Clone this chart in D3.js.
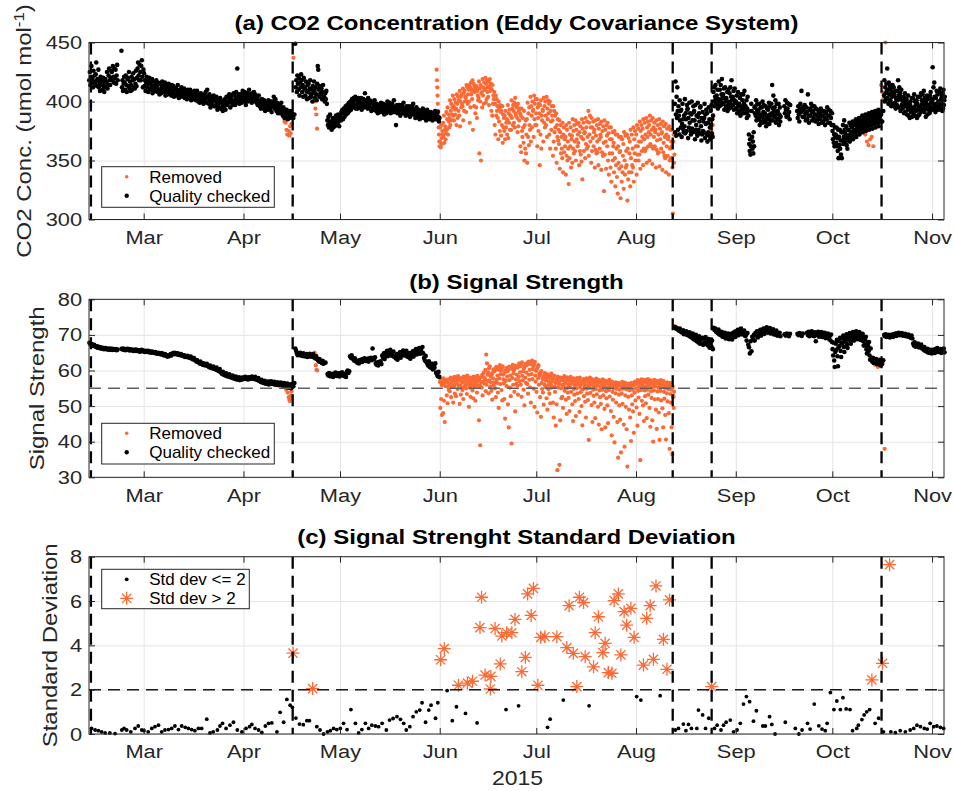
<!DOCTYPE html>
<html>
<head>
<meta charset="utf-8">
<script src="https://cdn.jsdelivr.net/npm/d3@7"></script>
<style>
  body { margin: 0; background: #fff; }
  svg text { font-family: "Liberation Sans", Arial, Helvetica, sans-serif; }
</style>
</head>
<body>
<svg id="chart" width="953" height="791"></svg>
<script>
// ---------------------------------------------------------------------------
// Data. Time is day of year 2015 (1 = Jan 1). Each row is [day, v1, v2, ...];
// the values of a row are samples spread evenly through that day.
// ---------------------------------------------------------------------------

// (a) CO2 concentration, umol mol-1 — quality checked samples
const co2Checked = [
  [43,418,425,414,421,430,416],[44,420,412,426,417,422,415],[45,423,433,418,413,419,427],
  [46,412,416,409,421,414,418],[47,415,410,420,413,408,417],[48,419,412,416,425,411,414],
  [49,422,428,418,414,420,426],[50,425,418,430,421,416,428],[51,420,427,415,422,431,418],
  [53,443,412,418,409,415,421],[54,416,410,422,414,408,419],[55,420,413,425,411,417,409],
  [56,414,421,410,418,424,412],[57,419,411,415,426,413,420],[58,428,433,422,418,431,425],
  [59,418,430,435,421,412,427],[60,424,413,418,409,416,421],[61,412,418,408,415,420,411],
  [62,416,410,414,419,407,413],[63,411,417,409,414,412,418],[64,413,408,416,410,415,406],
  [65,410,415,407,412,417,409],[66,414,408,411,416,405,412],[67,409,413,406,411,415,408],
  [68,412,407,410,405,414,409],[69,408,413,404,410,406,411],[70,411,405,409,414,407,403],
  [71,406,410,404,408,412,405],[72,409,404,407,411,403,408],[73,405,409,402,407,410,404],
  [74,407,403,410,405,401,408],[75,404,408,402,406,409,403],[76,406,401,405,409,403,400],
  [77,402,406,399,404,407,401],[78,405,400,403,398,402,406],[79,401,408,404,399,410,403],
  [80,404,398,406,401,395,402],[81,399,404,397,401,405,396],[82,402,396,400,404,398,393],
  [83,397,401,395,399,403,394],[84,400,394,398,392,396,401],[85,396,402,393,399,404,397],
  [86,398,404,400,406,402,395],[87,403,399,405,401,397,407],[88,400,405,397,402,408,399],
  [89,428,404,400,406,398,403],[90,401,406,399,404,409,402],[91,405,400,408,403,397,406],
  [92,402,407,400,405,410,404],[93,406,401,404,399,407,403],[94,403,408,401,406,400,405],
  [95,399,403,397,401,405,398],[96,396,400,394,398,402,395],[97,398,394,401,396,392,399],
  [98,395,399,393,397,401,394],[99,397,393,400,395,391,398],[100,400,396,404,398,394,402],
  [101,396,392,399,394,390,397],[102,393,397,390,395,399,391],[103,392,388,395,390,386,393],
  [104,390,387,393,389,385,391],[105,388,391,386,392,389,387],[106,390,386,389],
  [107,449,412,418,408,422,415],[108,410,420,405,416,412,423],[109,418,408,414,404,420,411],
  [110,412,405,417,409,402,414],[111,408,415,403,411,418,406],[112,404,410,400,413,407,417],
  [113,409,403,412,406,401,415],[114,430,427,410,404,413,407],[115,406,411,402,408,414,403],
  [116,404,400,407,402,409,398],[117,384,380,387,378,383,389],[118,379,383,376,381,386,378],
  [119,382,386,379,384,388,381],[120,385,381,389,383,379,387],[121,388,384,391,386,393,385],
  [122,390,394,387,392,396,389],[123,393,397,390,395,399,392],[124,396,400,393,398,402,395],
  [125,399,403,396,401,404,394],[126,397,401,394,399,403,396],[127,400,395,398,403,393,397],
  [128,398,402,395,400,407,396],[129,401,396,399,394,403,398],[130,397,401,394,399,392,400],
  [131,395,399,393,397,401,394],[132,396,392,398,394,390,397],[133,393,397,391,395,399,392],
  [134,395,391,398,393,389,396],[135,392,397,390,395,400,393],[136,396,392,399,394,390,397],
  [137,394,398,391,396,401,393],[138,391,395,380,393,397,390],[139,395,391,397,393,388,396],
  [140,393,397,390,395,399,392],[141,390,394,388,392,396,389],[142,394,390,396,392,387,395],
  [143,392,396,389,394,398,391],[144,389,393,386,391,395,388],[145,391,387,393,389,385,392],
  [146,388,392,386,390,394,387],[147,390,386,392,388,384,391],[148,393,389,387,391,385,390],
  [149,388,391,386,390,384,389],[150,390,386,388,392,385,387],[151,389,385,391,387,383,386],
  [225,398,374,417,389,371,404,386,412,392],[226,376,396,388,372,401,384,392,378],
  [227,393,370,381,398,377,385,374,388],[228,379,402,373,390,385,375,397,393],
  [229,394,369,386,378,399,382,390,375],[230,372,389,400,377,384,374,396,391],
  [231,392,384,368,397,376,380,388,373],[232,371,399,387,376,390,383,373,395],
  [233,396,379,367,386,372,391,375,383],[234,374,386,398,369,389,381,393,372],
  [235,390,366,382,374,395,371,385,378],[236,368,392,380,397,373,385,370,388],
  [237,408,400,412,396,404,414,402,398],[238,405,398,410,394,402,417,400,396],
  [239,410,401,414,397,406,419,403,399],[240,406,398,411,393,403,412,400,395],
  [241,403,396,408,392,400,410,398,394],[242,407,399,412,395,404,418,401,397],
  [243,404,397,409,393,401,411,399,394],[244,400,394,405,390,398,408,396,391],
  [245,398,392,403,388,396,406,394,390],[246,401,394,406,390,398,409,396,392],
  [247,396,390,401,386,394,404,392,388],[248,372,364,358,368,355,362,398,392],
  [249,370,360,366,356,374,362,395,390],[250,396,388,401,384,393,398,386,390],
  [251,392,385,398,380,389,395,383,387],[252,395,387,400,382,391,397,385,389],
  [253,390,383,396,379,388,394,381,386],[254,393,385,399,381,389,396,384,388],
  [255,398,390,414,384,394,405,388,392],[256,395,387,401,382,391,398,385,389],
  [257,392,385,398,380,389,395,383,387],
  [259,396,390,401,393,387,399],[260,394,388,398,391,385,397],
  [263,392,386,396,389,383,394],[264,398,391,409,393,387,395],[265,393,387,397,390,384,395],
  [266,391,385,406,388,382,393],[267,394,388,398,391,384,396],[268,392,386,396,389,383,394],
  [269,389,384,393,387,381,391],[270,390,385,394,388,382,392],[271,388,383,392,386,380,390],
  [272,391,385,395,388,382,393],[273,388,382,392,386,380,390],
  [274,375,368,380,365,372,362,378,370],[275,372,365,378,362,369,358,376,352],
  [276,370,363,376,360,367,355,374,352],[277,374,367,380,364,370,384,376,368],
  [278,373,366,379,363,369,360,376,371],[279,376,369,382,366,372,380,374,370],
  [280,378,371,383,368,374,381,376,373],[281,380,373,385,370,376,383,378,375],
  [282,381,375,386,372,378,384,380,376],[283,383,377,388,374,380,386,382,378],
  [284,384,378,389,375,381,387,383,379],[285,385,379,390,376,382,388,384,380],
  [286,386,380,391,377,383,389,385,381],[287,387,381,392,378,384,390,386,382],
  [288,388,382,393,379,385,391,387,383],[289,389,383,392],
  [290,405,418,400,412,407,402,415,409],[291,428,403,410,398,416,406,400,413],
  [292,401,411,396,408,404,414,398,405],[293,412,396,406,399,409,394,403,402],
  [294,397,409,401,418,395,405,412,403],[295,407,392,404,410,397,401,394,399],
  [296,395,404,390,401,407,391,398,396],[297,402,389,399,393,405,388,396,394],
  [298,386,397,400,391,394,403,387,392],[299,403,390,395,406,388,400,393,397],
  [300,392,401,386,398,404,388,395,393],[301,389,404,396,391,407,394,401,398],
  [302,406,393,398,409,391,403,396,400],[303,387,399,394,405,389,402,393,396],
  [304,397,390,405,392,408,399,395,402],[305,401,429,393,412,398,416,404,395],
  [306,391,403,398,409,393,406,396,400],[307,400,393,408,395,411,398,402,405],
  [308,399,392,407,394,410,397,401,404]
];

// (a) CO2 concentration — removed samples
const co2Removed = [
  [103,388,383],[104,382,376,372,385],[105,375,371,379,373,381],[106,437],
  [113,400,394,389,377],
  [151,427,418,412,405,398,392,385,378,372,366,362],
  [152,366,378,361,380,369,364,375,372],[153,382,370,388,365,376,379,368,373],
  [154,391,376,385,395,372,389,383,378],[155,386,401,380,392,398,384,389,395],
  [156,405,388,396,384,402,393,389,399],[157,394,380,406,398,386,404,392,401],
  [158,388,409,379,400,404,395,406,398],[159,396,411,384,407,392,409,400,404],
  [160,403,391,414,400,412,398,406,410],[161,400,414,382,412,395,416,406,409],
  [162,402,418,376,410,415,396,413,408],[163,390,411,395,413,386,409,405,401],
  [164,403,417,356,411,400,414,350,407],[165,408,395,419,405,412,398,416,410],
  [166,410,420,399,415,402,418,408,412],[167,404,417,397,413,419,409,411,415],
  [168,392,410,388,414,398,405,402,408],[169,380,398,372,405,388,402,392,396],
  [170,386,368,400,383,394,375,397,391],[171,371,392,380,396,365,389,378,386],
  [172,375,388,368,392,378,382,385,372],[173,384,397,369,390,382,393,376,388],
  [174,388,376,401,386,394,380,397,392],[175,382,399,378,403,390,388,396,395],
  [176,386,374,398,379,392,384,394,390],[177,362,388,357,394,375,370,386,378],
  [178,365,392,350,380,360,384,356,372],[179,385,348,399,370,390,363,395,380],
  [180,376,404,366,396,388,378,400,392],[181,393,370,405,385,398,380,402,390],
  [182,380,402,362,395,386,375,398,390],[183,346,397,372,401,360,388,384,393],
  [184,392,366,403,382,396,378,400,388],[185,380,404,370,394,385,401,390,398],
  [186,372,400,360,392,383,376,396,388],[187,384,354,396,366,392,374,388,378],
  [188,360,390,348,380,370,385,367,376],[189,364,384,343,374,380,356,370,360],
  [190,352,382,340,372,378,357,368,362],[191,370,338,380,354,376,350,366,360],
  [192,330,382,352,372,362,378,344,368],[193,371,348,385,360,375,356,380,366],
  [194,358,384,350,376,368,381,362,372],[195,365,382,346,374,358,379,355,370],
  [196,349,385,334,377,368,382,358,373],[197,374,352,386,364,378,360,383,370],
  [198,362,392,354,382,372,388,366,378],[199,348,386,358,378,369,383,362,374],
  [200,376,344,384,359,371,356,380,366],[201,357,385,346,377,368,360,381,372],
  [202,370,342,383,357,375,354,379,365],[203,324,384,355,376,366,343,380,371],
  [204,362,382,350,373,338,378,356,368],[205,344,378,332,368,356,374,350,362],
  [206,365,340,375,352,328,372,346,360],[207,336,372,322,362,348,370,343,357],
  [208,358,318,370,345,332,368,340,354],[209,364,326,374,350,338,371,344,358],
  [210,346,372,316,360,334,369,340,356],[211,366,328,376,352,340,372,346,360],
  [212,344,378,332,368,356,375,350,362],[213,372,338,380,355,362,377,350,366],
  [214,355,383,343,375,366,380,358,370],[215,377,346,385,360,368,382,358,372],
  [216,360,386,348,378,370,383,362,374],[217,380,350,388,364,372,384,362,376],
  [218,347,386,360,378,370,382,362,374],[219,376,344,384,359,367,380,356,372],
  [220,357,385,345,377,368,381,360,373],[221,374,342,383,357,365,379,354,370],
  [222,352,381,340,372,362,377,354,368],[223,370,338,379,350,360,376,352,366],
  [224,362,376,344,305,366,372,348,355],
  [236,382,376,372,380],[284,372,366],[285,363,368],[286,370,362],
  [289,414,408,402],[290,450]
];

// (b) Signal strength — quality checked samples
const signalChecked = [
  [43,67.8,67.5,67.2,67.4],[44,67.1,66.9,67.2,66.8],[45,66.7,66.5,66.8,66.4],
  [46,66.3,66.6,66.2,66.4],[47,66.1,66.4,66.0,66.2],[48,66.3,66.0,66.2,65.9],
  [49,65.9,66.2,65.8,66.0],[50,66.1,65.8,66.0,65.9],[51,65.8,66.0,65.7,65.9],
  [53,66.1,65.9,66.2,65.8],[54,66.0,65.7,65.9,66.1],[55,65.8,66.0,65.6,65.9],
  [56,65.9,65.6,65.8,65.5],[57,65.7,65.9,65.5,65.8],[58,65.6,65.4,65.7,65.3],
  [59,65.5,65.8,65.4,65.6],[60,65.4,65.2,65.5,65.3],[61,65.3,65.5,65.1,65.4],
  [62,65.2,65.0,65.3,65.1],[63,65.1,64.9,65.2,64.8],[64,64.9,64.7,65.0,64.8],
  [65,64.8,64.5,64.9,64.6],[66,64.4,64.2,64.6,64.3],[67,64.1,63.9,64.3,64.0],
  [68,64.3,64.6,64.2,64.7],[69,64.8,65.0,64.6,64.9],[70,64.7,64.5,64.8,64.4],
  [71,64.5,64.3,64.6,64.2],[72,64.2,64.0,64.3,63.8],[73,64.0,63.8,64.1,63.7],
  [74,63.8,63.5,63.9,63.4],[75,63.4,63.1,63.5,63.0],[76,62.8,62.5,62.9,62.4],
  [77,62.3,62.0,62.5,61.9],[78,61.8,61.6,62.0,61.5],[79,61.7,61.4,61.9,61.3],
  [80,61.2,60.9,61.4,60.8],[81,60.9,60.6,61.1,60.5],[82,60.6,60.3,60.8,60.1],
  [83,60.2,59.8,60.4,59.6],[84,59.4,59.0,59.6,58.8],[85,59.0,58.6,59.2,58.4],
  [86,58.7,58.3,58.9,58.1],[87,58.4,58.0,58.6,57.8],[88,58.1,57.7,58.3,57.5],
  [89,57.9,57.5,58.1,57.3],[90,57.8,57.4,58.0,57.6],[91,58.0,57.6,58.2,57.7],
  [92,57.9,57.5,58.1,57.6],[93,58.1,57.8,58.3,57.7],[94,58.0,57.6,58.2,57.5],
  [95,57.7,57.3,57.9,57.1],[96,57.2,56.8,57.4,56.6],[97,56.9,56.5,57.1,56.3],
  [98,56.7,56.3,56.9,56.1],[99,56.8,56.4,57.0,56.2],[100,56.6,56.2,56.8,56.0],
  [101,56.5,56.1,56.7,55.9],[102,56.4,56.0,56.6,55.8],[103,56.2,55.7,56.5,55.5],
  [104,56.0,55.4,56.3,55.2],[105,55.8,55.2,56.1,55.0],[106,56.2,55.6,56.5],
  [107,66.2,65.5,64.8,64.3],[108,64.9,64.4,65.0,64.2],[109,64.6,64.1,64.8,64.0],
  [110,64.4,64.0,64.6,63.8],[111,64.5,64.1,64.7,63.9],[112,64.3,63.9,64.6,63.7],
  [113,63.8,63.4,64.0,63.2],[114,63.0,62.6,63.2,62.4],[115,62.5,62.1,62.7,61.9],
  [116,62.2],
  [117,59.0,58.6,59.3,58.4],[118,58.8,58.4,59.1,58.2],[119,59.1,58.7,59.4,58.5],
  [120,58.9,58.5,59.2,58.3],[121,59.2,58.8,59.5,58.6],[122,58.8,58.4,59.1,58.2],
  [123,59.6,60.0,59.3,59.8],
  [124,64.0,63.6,64.3,63.4],[125,63.2,62.8,63.4,62.6],[126,62.5,62.2,62.8,62.0],
  [127,62.9,62.6,63.1,62.4],[128,63.2,62.9,63.4,62.7],[129,63.0,62.7,63.3,62.5],
  [130,63.4,63.1,63.6,62.9],[131,66.2,63.5,63.2,63.7],[132,62.0,61.6,62.3,61.4],
  [133,62.4,62.0,62.6,61.8],[134,64.2,63.6,64.8,63.2],[135,65.0,64.4,65.5,64.0],
  [136,65.3,64.7,65.8,64.2],[137,64.8,64.1,65.3,63.8],[138,64.0,63.4,64.6,63.0],
  [139,64.6,64.0,65.1,63.6],[140,65.2,64.6,65.6,64.2],[141,65.0,64.3,65.5,63.9],
  [142,64.3,63.7,64.9,63.3],[143,64.9,64.3,65.4,63.9],[144,65.5,64.9,66.0,64.5],
  [145,65.8,65.1,66.3,64.7],[146,66.0,65.2,66.6,64.8],[147,63.5,62.8,64.1,62.3],
  [148,62.0,61.4,62.6,61.0],[149,61.3,60.7,61.9,60.3],[150,61.5,60.8,62.0,59.4],
  [151,59.0,58.4,59.6,58.2],
  [225,72.2,71.8,72.0,71.5],[226,71.6,71.2,71.8,70.9],[227,71.0,70.6,71.3,70.2],
  [228,70.8,70.3,71.0,70.0],[229,70.4,69.8,70.7,69.5],[230,70.0,69.2,70.4,68.8],
  [231,69.5,68.6,70.0,68.2],[232,69.0,67.9,69.6,67.5],[233,68.6,67.6,69.2,67.2],
  [234,68.9,67.8,69.4,67.4],[235,68.2,67.0,68.8,66.4],[236,67.8,66.8,68.4,66.0],
  [237,72.0,71.4,71.8,70.9],[238,71.2,70.5,71.5,70.1],[239,70.6,69.9,70.9,69.5],
  [240,70.2,69.4,70.6,69.0],[241,70.0,69.2,70.4,68.8],[242,69.8,69.0,70.3,68.7],
  [243,70.5,69.8,70.9,69.4],[244,71.0,70.3,71.4,69.9],[245,71.4,70.6,71.8,70.2],
  [246,70.8,70.1,71.2,69.7],[247,69.8,68.4,70.5,67.2],[248,66.5,64.8,68.2,65.4],
  [249,69.5,68.8,70.0,68.4],[250,70.6,69.8,71.0,69.3],[251,71.0,70.2,71.4,69.8],
  [252,71.4,70.7,71.8,70.3],[253,71.7,71.0,72.1,70.6],[254,71.5,70.8,71.9,70.4],
  [255,71.2,70.5,71.6,70.1],[256,70.8,70.1,71.2,69.8],[257,70.4,69.9,70.6,69.6],
  [259,70.2,69.8,70.4],[260,70.0,69.6,70.3],[263,70.3,69.9,70.5],[264,70.1,69.7,70.4],
  [266,70.6,70.0,70.9,69.6],[267,70.8,70.2,71.0,69.8],[268,70.4,69.6,70.7,68.2],
  [269,70.6,69.9,70.9,69.5],[270,70.5,69.8,70.8,69.4],[271,70.2,69.5,70.6,69.1],
  [272,70.0,69.3,70.4,68.9],[273,69.6,68.5,70.1,68.0],
  [274,66.0,64.2,67.8,62.8,61.0,65.2],[275,67.5,65.8,68.6,64.0,61.2,66.5],
  [276,68.2,66.9,69.2,65.5,63.8,67.6],[277,69.0,67.8,69.8,66.6,65.2,68.4],
  [278,69.5,68.5,70.2,67.4,66.3,68.9],[279,70.0,69.2,70.5,68.3,67.5,69.6],
  [280,70.3,69.6,70.8,69.0,68.4,70.0],[281,70.6,69.9,71.0,69.4,68.8,70.2],
  [282,70.4,69.8,70.8,69.2,68.6,70.1],[283,69.8,69.0,70.3,68.2,67.0,69.4],
  [284,68.8,67.2,69.5,66.0,64.8,68.0],[285,67.0,65.4,68.0,64.2,63.0,66.2],
  [286,63.2,62.5,63.6,62.1],[287,62.8,62.2,63.2,61.8],[288,62.6,61.9,63.0,61.5],
  [289,62.4,61.8,62.9],
  [290,70.0,69.6,70.2,69.4],[291,69.8,69.5,70.0,69.3],[292,69.9,69.6,70.1,69.4],
  [293,70.2,69.9,70.4,69.7],[294,70.4,70.1,70.6,69.9],[295,70.3,70.0,70.5,69.8],
  [296,70.1,69.8,70.3,69.6],[297,69.9,69.6,70.1,69.4],[298,69.6,69.2,69.8,69.0],
  [299,67.6,67.0,67.9,66.7],[300,67.3,66.8,67.6,66.5],[301,67.0,66.5,67.3,66.2],
  [302,66.3,65.8,66.6,65.5],[303,65.8,65.3,66.1,65.0],[304,65.5,65.0,65.8,64.8],
  [305,65.6,65.1,65.9,64.9],[306,66.0,65.5,66.3,65.2],[307,65.7,65.2,66.0,64.9],
  [308,65.9,65.4,66.2,65.1]
];

// (b) Signal strength — removed samples
const signalRemoved = [
  [104,54.6,53.8],[105,52.5,51.8,51.4,52.2,53.0,54.2],[106,55.5,56.5],
  [113,65.0,64.4,61.5,60.2,60.0],
  [152,56.8,49.5,57.5,52.0,55.9,47.5,57.0,56.2],[153,48.0,57.8,51.5,56.5,45.5,57.3,55.6,56.9],
  [154,57.2,53.0,56.7,50.8,57.5,55.4,54.6,56.3],[155,54.2,57.6,55.3,58.0,52.5,56.8,57.1,55.8],
  [156,57.9,51.0,57.3,55.6,58.2,53.5,56.2,57.0],[157,52.8,58.1,56.4,57.6,54.8,58.4,55.9,57.2],
  [158,57.4,50.6,57.9,55.7,53.2,57.0,55.1,56.6],[159,54.5,57.8,52.0,58.3,56.9,55.4,57.3,56.0],
  [160,58.2,55.0,57.8,53.4,58.6,56.5,56.0,57.4],[161,49.8,57.5,55.2,58.0,52.6,56.7,57.1,55.8],
  [162,57.9,54.4,57.4,52.2,58.3,56.2,55.6,57.0],[163,51.5,58.0,56.3,57.5,53.8,58.5,55.7,57.1],
  [164,57.6,46.0,57.2,55.9,39.0,58.1,55.3,56.8],[165,55.2,58.8,53.0,58.3,56.8,59.4,56.3,57.9],
  [166,57.5,60.2,54.2,64.5,56.0,62.0,58.8,57.0],[167,59.5,53.6,60.6,57.2,61.2,55.5,58.4,56.6],
  [168,54.3,58.9,51.8,59.4,57.8,60.3,55.8,56.7],[169,59.8,55.0,60.4,52.5,61.0,57.4,56.5,58.6],
  [170,53.8,60.3,49.5,60.8,57.8,61.5,56.2,59.0],[171,60.0,54.5,60.5,51.6,61.2,58.8,57.5,56.4],
  [172,52.0,59.4,46.5,60.0,57.1,60.7,55.6,58.3],[173,59.8,50.5,60.3,44.0,61.1,57.3,55.2,58.6],
  [174,52.8,60.5,39.5,61.0,57.9,61.6,56.0,59.2],[175,60.0,54.0,60.6,48.5,61.3,57.5,56.3,58.8],
  [176,55.8,60.8,53.2,61.4,58.2,62.0,57.0,59.5],[177,61.2,56.0,61.7,52.6,62.3,58.5,57.2,59.8],
  [178,54.6,60.6,50.2,61.2,58.0,61.9,56.5,59.4],[179,61.5,56.2,62.0,53.5,62.5,58.8,57.4,60.2],
  [180,55.3,61.8,51.0,62.2,59.0,62.8,57.6,60.4],[181,61.2,54.9,61.7,49.8,62.4,58.6,56.9,59.9],
  [182,54.0,60.4,48.2,60.9,57.8,61.5,56.0,59.2],[183,58.5,52.5,59.0,47.0,59.8,56.5,54.8,57.6],
  [184,53.8,58.0,50.4,58.6,56.1,59.3,55.4,57.2],[185,57.6,52.2,58.2,49.0,58.9,55.8,54.7,56.8],
  [186,53.5,57.9,50.8,58.4,56.0,59.1,55.2,57.0],[187,57.3,51.0,57.9,46.8,58.6,55.5,54.0,56.5],
  [188,44.5,57.0,50.5,57.6,32.0,58.3,55.2,56.2],[189,56.8,33.5,57.4,46.0,58.0,55.0,52.2,56.0],
  [190,52.6,57.2,49.5,57.8,55.4,58.4,54.3,56.4],[191,56.9,51.8,57.5,47.8,58.1,55.1,53.8,56.1],
  [192,52.3,57.1,48.6,57.6,55.3,58.2,54.0,56.3],[193,56.6,50.5,57.2,45.8,57.8,54.8,53.2,55.8],
  [194,51.4,56.8,47.2,57.3,55.0,57.9,53.6,56.0],[195,57.0,52.0,57.5,48.4,58.0,55.2,53.9,56.2],
  [196,50.0,56.5,44.6,57.0,54.7,57.6,52.8,55.7],[197,56.7,51.2,57.2,46.8,57.8,54.9,53.5,55.9],
  [198,51.7,56.9,40.5,57.4,55.1,58.0,53.7,56.1],[199,56.4,50.3,56.9,45.5,57.5,54.6,52.9,55.6],
  [200,51.0,56.6,46.6,57.1,54.8,57.7,53.3,55.8],[201,56.2,49.8,56.7,44.8,57.3,54.4,52.5,55.4],
  [202,50.6,56.4,43.5,56.9,54.6,57.5,53.0,55.6],[203,56.0,49.2,56.5,44.0,57.1,54.2,52.2,55.2],
  [204,50.2,56.3,45.2,56.8,54.5,57.4,52.7,55.5],[205,55.8,48.6,56.3,41.8,56.9,54.0,51.8,55.0],
  [206,47.0,55.6,39.8,56.1,53.6,56.7,51.0,54.8],[207,55.4,45.5,55.9,35.5,56.5,53.2,50.2,54.6],
  [208,46.2,55.7,37.0,56.2,53.5,56.8,50.6,54.9],[209,55.5,44.8,56.0,38.6,56.6,53.0,49.8,54.7],
  [210,43.5,55.2,33.0,55.7,52.6,56.3,49.0,54.4],[211,55.4,46.8,55.9,40.2,56.5,53.0,50.5,54.6],
  [212,48.5,55.8,42.5,56.3,53.8,56.9,51.6,55.0],[213,56.2,49.6,56.7,44.5,57.3,54.3,52.4,55.4],
  [214,47.8,56.4,34.8,56.9,54.5,57.5,51.5,55.6],[215,56.3,50.2,56.8,45.8,57.4,54.4,52.8,55.5],
  [216,50.8,56.5,46.6,57.0,54.6,57.6,53.2,55.7],[217,56.1,49.5,56.6,44.2,57.2,54.2,52.3,55.3],
  [218,46.0,56.3,40.0,56.8,54.4,57.4,51.9,55.5],[219,56.0,49.0,56.5,43.6,57.1,54.1,52.0,55.2],
  [220,48.2,56.2,40.5,56.7,54.3,57.3,51.6,55.4],[221,55.9,49.4,56.4,44.0,57.0,54.0,52.1,55.1],
  [222,47.5,55.6,40.6,56.1,53.6,56.7,51.3,54.8],[223,55.4,48.0,55.9,38.0,56.5,53.4,51.0,54.6],
  [224,44.0,55.0,36.5,55.5,52.5,52.8,49.5,54.0,72.5],
  [236,67.0,66.6],[285,66.3],[286,63.0,62.2],[287,61.6,62.6],[288,61.0,62.0,61.4],
  [289,61.8,62.5],[290,38.0,69.8]
];

// (c) Daily standard deviation of signal strength, [day, std dev]
const stdLow = [
  [43.8,0.25],[44.9,0.18],[45.9,0.15],[46.9,0.1],[48,0.05],[49.5,0.05],[51.1,0.02],[53.2,0.18],
  [53.9,0.25],[54.7,0.18],[56,0.1],[57.3,0.25],[58.3,0.36],[59.4,0.18],[60.1,0.15],[61.4,0.1],
  [62.5,0.25],[63.5,0.33],[64.6,0.4],[65.6,0.1],[66.6,0.18],[67.7,0.2],[68.7,0.25],[69.7,0.36],
  [70.8,0.2],[71.8,0.36],[72.9,0.3],[73.9,0.25],[74.9,0.2],[75.9,0.15],[77,0.25],[78,0.25],
  [79.6,0.67],[80.6,0.05],[81.6,0.1],[82.9,0.18],[83.7,0.36],[84.5,0.48],[85.6,0.25],[86.8,0.4],
  [87.9,0.53],[89.1,0.18],[90.5,0.1],[91.8,0.25],[92.9,0.33],[93.6,0.43],[94.6,0.25],[95.7,0.18],
  [96.7,0.07],[97.8,0.36],[98.8,0.48],[99.8,0.5],[101.4,0.1],[102.4,0.98],[103.5,0.53],[104.5,1.56],
  [105.5,1.3],[106.2,1.2],[107.3,0.72],[108.4,0.45],[109.6,0.42],[110.7,0.6],[111.5,0.6],[113.8,0.33],
  [114.8,0.18],[115.9,0.0],[117.1,0.1],[118,0.15],[119,0.25],[120,0.2],[121.1,0.25],[122.1,0.48],
  [123.2,0.2],[124.4,1.1],[125.8,0.48],[126.8,0.05],[127.8,0.2],[128.9,0.48],[129.9,0.25],[130.9,0.4],
  [132,0.36],[133,0.33],[134.1,0.48],[135.4,0.18],[136.4,0.63],[137.5,0.7],[138.7,0.78],[139.8,0.66],
  [140.8,0.48],[141.6,0.18],[142.7,0.33],[143.7,0.78],[144.7,1.0],[145.8,1.08],[146.5,1.41],[147.6,0.53],
  [148.6,1.08],[149.3,1.3],[150.7,0.71],[151.4,1.41],[154.3,1.96],[155.9,0.6],[157.2,1.23],[160,0.93],
  [163.6,0.5],[172.6,1.1],[176.5,1.27],[185.5,0.3],[186.3,0.67],[190.4,1.53],[198.4,1.27],[213.2,1.69],
  [214.5,1.53],[220.5,1.73],
  [225.2,0.18],[226.2,0.25],[227.7,0.45],[228.5,0.15],[229.3,0.43],[230.2,0.25],[231.9,0.25],[232.4,1.08],
  [233.7,0.86],[234.6,0.25],[235.6,0.71],[237.4,0.25],[238.2,0.4],[239.4,0.18],[240.2,0.4],[241,0.53],
  [242.3,0.63],[243.3,0.1],[244.4,0.18],[245.4,0.48],[246.4,1.35],[247.3,1.69],[248.3,1.46],[249.5,0.58],
  [250.4,1.05],[252.4,0.36],[253.2,0.36],[254.5,0.78],[255.2,0.43],[256.2,0.0],[259.4,0.53],[262.5,0.25],
  [263.6,0.0],[264.6,0.18],[266.3,0.48],[267.1,0.22],[268.4,1.35],[269.8,0.37],[270.8,0.22],[271.8,0.15],
  [272.4,0.48],[273.4,1.87],[274.5,1.1],[275.4,1.49],[276.5,1.1],[277.3,1.64],[278.3,1.13],[279.5,1.1],
  [280.3,0.15],[281.6,0.25],[282.1,0.4],[283.2,0.65],[283.9,0.86],[284.7,1.0],[285.6,1.1],[287.3,0.48],
  [288.4,0.71],[289.9,0.1],[292.2,0.1],[293.6,0.06],[295.1,0.15],[296.7,0.1],[298.2,0.18],[299.3,0.25],
  [300.3,0.4],[301.4,0.33],[302.6,0.25],[303.5,0.22],[304.4,0.48],[305.5,0.33],[306.5,0.36],[307.6,0.3],
  [308.6,0.25]
];
const stdHigh = [
  [106.4,3.65],[112.5,2.05],[152.3,3.35],[153.4,3.85],[157.8,2.2],[160.6,2.3],[162.2,2.38],[164.5,4.8],
  [165,6.17],[166.1,2.66],[167.7,2.03],[167.9,2.6],[169.2,4.76],[170.8,3.16],[171.3,4.42],[172.8,4.57],
  [174.4,4.57],[175.4,5.17],[177.5,2.81],[178.6,3.46],[179.3,6.32],[180.4,5.35],[181.1,6.57],[182.5,2.2],
  [183.4,4.36],[184.7,4.39],[188.4,4.39],[191.5,3.9],[192.2,5.79],[193.5,3.64],[194.6,2.14],[195.4,6.17],
  [196.7,5.93],[197.2,3.49],[199.8,3.03],[200.3,4.57],[201.3,5.29],[202.7,3.67],[203.4,4.09],[204.4,2.77],
  [205.5,2.74],[206.2,6.02],[207.5,6.32],[208.3,3.57],[209.3,5.52],[210.1,4.91],[211.4,5.67],[212.4,4.36],
  [215.3,3.11],[216.3,5.22],[217.4,5.79],[218.4,3.37],[219.2,6.68],[221.5,4.27],[222.6,2.92],[223.4,6.05],
  [236.5,2.14],[286.3,2.44],[289.6,3.19],[291.8,7.64]
];

// Days on which the instrument setup changed (vertical dashed lines)
const breakDays = [43.6, 106.3, 224.4, 236.5, 289.3];

// Axis ticks and thresholds
const co2Ticks = [300, 350, 400, 450];
const signalTicks = [30, 40, 50, 60, 70, 80];
const stdTicks = [0, 2, 4, 6, 8];
const signalThreshold = 55;
const stdThreshold = 2;

// ---------------------------------------------------------------------------
// Drawing
// ---------------------------------------------------------------------------
const ORANGE = "#fb6a35";
const INK = "#262626";
const FONT = '"Liberation Sans", Arial, Helvetica, sans-serif';

const svg = d3.select("#chart");
const jan1 = new Date(2015, 0, 1);
const dayToDate = d => new Date(jan1.getTime() + (d - 1) * 864e5);

const left = 89, right = 944;
const x = d3.scaleTime()
  .domain([new Date(2015, 1, 12), new Date(2015, 10, 4, 17)])
  .range([left, right]);
const months = d3.timeMonth.range(new Date(2015, 2, 1), new Date(2015, 10, 2));

function expand(rows) {
  const pts = [];
  rows.forEach(r => {
    const n = r.length - 1;
    for (let i = 1; i <= n; i++) pts.push({ t: dayToDate(r[0] + (i - 0.5) / n), v: r[i] });
  });
  return pts;
}

const asterisk = "M-6.5,0H6.5M0,-6.5V6.5M-4.6,-4.6L4.6,4.6M-4.6,4.6L4.6,-4.6";

function panel(cfg) {
  const y = d3.scaleLinear().domain(cfg.domain).range([cfg.bottom, cfg.top]);
  const h = cfg.bottom - cfg.top;
  const g = svg.append("g");

  // grid
  g.append("g").attr("transform", `translate(0,${cfg.bottom})`)
    .call(d3.axisBottom(x).tickValues(months).tickSize(-h).tickFormat(""))
    .call(a => { a.select(".domain").remove(); a.selectAll("line").attr("stroke", "#e4e4e4"); });
  g.append("g").attr("transform", `translate(${left},0)`)
    .call(d3.axisLeft(y).tickValues(cfg.ticks).tickSize(-(right - left)).tickFormat(""))
    .call(a => { a.select(".domain").remove(); a.selectAll("line").attr("stroke", "#e4e4e4"); });

  const plot = g.append("g");
  cfg.draw(plot, y);

  // threshold line
  if (cfg.threshold != null) {
    g.append("line")
      .attr("x1", left).attr("x2", right)
      .attr("y1", y(cfg.threshold)).attr("y2", y(cfg.threshold))
      .attr("stroke", cfg.thresholdColor).attr("stroke-width", 1.4)
      .attr("stroke-dasharray", "12,7");
  }

  // configuration change markers
  g.append("g").selectAll("line").data(breakDays).join("line")
    .attr("x1", d => x(dayToDate(d))).attr("x2", d => x(dayToDate(d)))
    .attr("y1", cfg.top).attr("y2", cfg.bottom)
    .attr("stroke", "#000").attr("stroke-width", 2.3)
    .attr("stroke-dasharray", "12,7");

  // axes with inward ticks on all four sides
  const styleAxis = a => {
    a.attr("font-family", FONT).attr("font-size", 19);
    a.select(".domain").remove();
    a.selectAll("line").attr("stroke", INK);
    a.selectAll("text").attr("fill", INK).attr("transform", "scale(1.15,1)");
  };
  g.append("g").attr("transform", `translate(0,${cfg.bottom})`)
    .call(d3.axisBottom(x).tickValues(months).tickFormat(d3.timeFormat("%b")).tickSize(-6).tickPadding(11))
    .call(styleAxis);
  g.append("g").attr("transform", `translate(0,${cfg.top})`)
    .call(d3.axisTop(x).tickValues(months).tickFormat("").tickSize(-6))
    .call(styleAxis);
  g.append("g").attr("transform", `translate(${left},0)`)
    .call(d3.axisLeft(y).tickValues(cfg.ticks).tickSize(-6).tickPadding(6))
    .call(styleAxis);
  g.append("g").attr("transform", `translate(${right},0)`)
    .call(d3.axisRight(y).tickValues(cfg.ticks).tickFormat("").tickSize(-6))
    .call(styleAxis);
  g.append("rect")
    .attr("x", left).attr("y", cfg.top).attr("width", right - left).attr("height", h)
    .attr("fill", "none").attr("stroke", INK).attr("stroke-width", 1);

  // title
  g.append("text")
    .attr("transform", `translate(${(left + right) / 2},${cfg.titleY}) scale(1.2,1)`)
    .attr("text-anchor", "middle").attr("font-family", FONT)
    .attr("font-size", 20).attr("font-weight", "bold").attr("fill", "#000")
    .text(cfg.title);

  // y label
  const yl = g.append("text")
    .attr("transform", `translate(${cfg.labelX},${(cfg.top + cfg.bottom) / 2}) rotate(-90) scale(1.2,1)`)
    .attr("text-anchor", "middle").attr("font-family", FONT)
    .attr("font-size", 20).attr("fill", INK);
  cfg.label(yl);

  // legend
  const lg = g.append("g").attr("transform", `translate(${cfg.legend.x},${cfg.legend.y})`);
  lg.append("rect").attr("width", cfg.legend.w).attr("height", cfg.legend.h)
    .attr("fill", "#fff").attr("stroke", INK).attr("stroke-width", 1);
  cfg.legend.items.forEach((it, i) => {
    const cy = 10 + i * 19;
    it.marker(lg, 25, cy);
    lg.append("text").attr("x", 47.5).attr("y", cy + 6)
      .attr("font-family", FONT).attr("font-size", 17).attr("fill", "#000")
      .text(it.label);
  });
  return y;
}

const dotsLegend = [
  { label: "Removed", marker: (s, cx, cy) => s.append("circle").attr("cx", cx).attr("cy", cy).attr("r", 1.8).attr("fill", ORANGE) },
  { label: "Quality checked", marker: (s, cx, cy) => s.append("circle").attr("cx", cx).attr("cy", cy).attr("r", 2.2).attr("fill", "#000") }
];

function scatter(removed, checked) {
  return (plot, y) => {
    plot.append("g").selectAll("circle").data(expand(removed)).join("circle")
      .attr("cx", d => x(d.t)).attr("cy", d => y(d.v)).attr("r", 2.1).attr("fill", ORANGE);
    plot.append("g").selectAll("circle").data(expand(checked)).join("circle")
      .attr("cx", d => x(d.t)).attr("cy", d => y(d.v)).attr("r", 2.3).attr("fill", "#000");
  };
}

// (a)
panel({
  title: "(a) CO2 Concentration (Eddy Covariance System)", titleY: 29.5,
  top: 42.5, bottom: 219.5, domain: [300, 450], ticks: co2Ticks,
  labelX: 31,
  label: t => {
    t.append("tspan").text("CO2 Conc. (umol mol");
    t.append("tspan").attr("dy", -7).attr("font-size", 14).text("-1");
    t.append("tspan").attr("dy", 7).text(")");
  },
  draw: scatter(co2Removed, co2Checked),
  legend: { x: 101.7, y: 166.7, w: 172.6, h: 40.6, items: dotsLegend }
});

// (b)
panel({
  title: "(b) Signal Strength", titleY: 289,
  top: 299.3, bottom: 477.3, domain: [30, 80], ticks: signalTicks,
  threshold: signalThreshold, thresholdColor: "#606060",
  labelX: 44,
  label: t => t.text("Signal Strength"),
  draw: scatter(signalRemoved, signalChecked),
  legend: { x: 101.7, y: 423.3, w: 172.6, h: 40.7, items: dotsLegend }
});

// (c)
panel({
  title: "(c) Signal Strenght Standard Deviation", titleY: 543.5,
  top: 556.7, bottom: 734, domain: [0, 8], ticks: stdTicks,
  threshold: stdThreshold, thresholdColor: "#1a1a1a",
  labelX: 57,
  label: t => t.text("Standard Deviation"),
  draw: (plot, y) => {
    plot.append("g").selectAll("circle").data(stdLow).join("circle")
      .attr("cx", d => x(dayToDate(d[0]))).attr("cy", d => y(d[1])).attr("r", 1.9).attr("fill", "#000");
    plot.append("g").selectAll("path").data(stdHigh).join("path")
      .attr("transform", d => `translate(${x(dayToDate(d[0]))},${y(d[1])})`)
      .attr("d", asterisk).attr("fill", "none").attr("stroke", ORANGE).attr("stroke-width", 1.3);
  },
  legend: {
    x: 101.7, y: 569.3, w: 147.6, h: 39.4,
    items: [
      { label: "Std dev <= 2", marker: (s, cx, cy) => s.append("circle").attr("cx", cx).attr("cy", cy).attr("r", 1.9).attr("fill", "#000") },
      { label: "Std dev > 2", marker: (s, cx, cy) => s.append("path").attr("transform", `translate(${cx},${cy})`).attr("d", asterisk).attr("fill", "none").attr("stroke", ORANGE).attr("stroke-width", 1.3) }
    ]
  }
});

// shared date label
svg.append("text")
  .attr("transform", "translate(517.5,785) scale(1.15,1)")
  .attr("text-anchor", "middle").attr("font-family", FONT)
  .attr("font-size", 20).attr("fill", INK)
  .text("2015");
</script>
</body>
</html>
